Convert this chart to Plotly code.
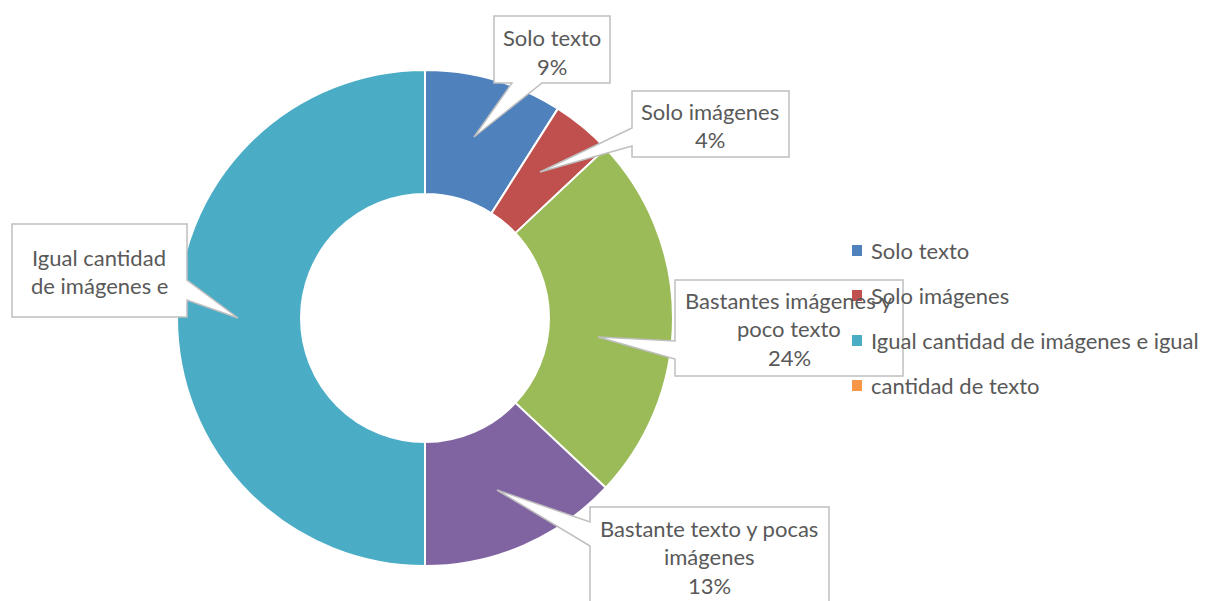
import plotly.graph_objects as go

# Survey answers and their shares (percent)
categories = [
    "Solo texto",
    "Solo imágenes",
    "Bastantes imágenes y poco texto",
    "Bastante texto y pocas imágenes",
    "Igual cantidad de imágenes e igual cantidad de texto",
]
values = [9, 4, 24, 13, 50]
colors = ["#4F81BD", "#C0504D", "#9BBB59", "#8064A2", "#4BACC6"]

# Legend entries as they appear beside the chart
legend_labels = ["Solo texto", "Solo imágenes", "Igual cantidad de imágenes e igual", "cantidad de texto"]
legend_colors = ["#4F81BD", "#C0504D", "#4BACC6", "#F79646"]

W, H = 1206, 601
FONT = "Lato"
FS = 22
TXT = "#595959"


def px(x):
    return x / W


def py(y):
    return 1 - y / H


def path(points):
    return "M " + " L ".join(f"{px(x):.5f},{py(y):.5f}" for x, y in points) + " Z"


fig = go.Figure()
cx, cy, r = 425, 318, 248
fig.add_trace(go.Pie(
    labels=categories,
    values=values,
    marker=dict(colors=colors, line=dict(color="white", width=2)),
    hole=0.5,
    sort=False,
    direction="clockwise",
    rotation=0,
    textinfo="none",
    showlegend=False,
    domain=dict(x=[px(cx - r), px(cx + r)], y=[py(cy + r), py(cy - r)]),
))

# Callout boxes: outline polygon (box with pointer), text lines, first line centre
pct = [f"{v}%" for v in values]
callouts = [
    dict(poly=[(494, 16), (610, 16), (610, 83), (542, 83), (474, 137), (512, 83), (494, 83)],
         lines=["Solo texto", pct[0]], x=552, y0=38),
    dict(poly=[(632, 91), (789, 91), (789, 157), (632, 157), (632, 146), (540, 172), (632, 128)],
         lines=["Solo imágenes", pct[1]], x=710, y0=111),
    dict(poly=[(12, 224), (187, 224), (187, 280), (238, 318), (187, 300), (187, 317), (12, 317)],
         lines=["Igual cantidad", "de imágenes e"], x=99, y0=257),
    dict(poly=[(675, 280), (903, 280), (903, 376), (675, 376), (675, 359), (598, 337), (675, 341)],
         lines=["Bastantes imágenes y", "poco texto", pct[2]], x=789, y0=300),
    dict(poly=[(590, 507), (829, 507), (829, 640), (590, 640), (590, 546), (497, 490), (590, 522)],
         lines=["Bastante texto y pocas", "imágenes", pct[3]], x=709, y0=528),
]

shapes = []
annotations = []
LINE = 28.5
for c in callouts:
    shapes.append(dict(type="path", xref="paper", yref="paper", path=path(c["poly"]),
                       fillcolor="white", line=dict(color="#BFBFBF", width=1.5), layer="above"))
    for i, t in enumerate(c["lines"]):
        annotations.append(dict(xref="paper", yref="paper", x=px(c["x"]), y=py(c["y0"] + i * LINE),
                                text=t, showarrow=False, xanchor="center", yanchor="middle",
                                font=dict(family=FONT, size=FS, color=TXT)))

# Legend drawn on top of the callouts
for i, (lab, col) in enumerate(zip(legend_labels, legend_colors)):
    yc = 250 + i * 45
    shapes.append(dict(type="rect", xref="paper", yref="paper",
                       x0=px(852), x1=px(862), y0=py(yc + 6), y1=py(yc - 5),
                       fillcolor=col, line=dict(width=0), layer="above"))
    annotations.append(dict(xref="paper", yref="paper", x=px(869), y=py(yc),
                            text=lab, showarrow=False, xanchor="left", yanchor="middle",
                            font=dict(family=FONT, size=FS, color=TXT)))

fig.update_layout(
    width=W, height=H,
    margin=dict(l=0, r=0, t=0, b=0),
    paper_bgcolor="white",
    plot_bgcolor="white",
    shapes=shapes,
    annotations=annotations,
)

fig.write_html("out.html")
